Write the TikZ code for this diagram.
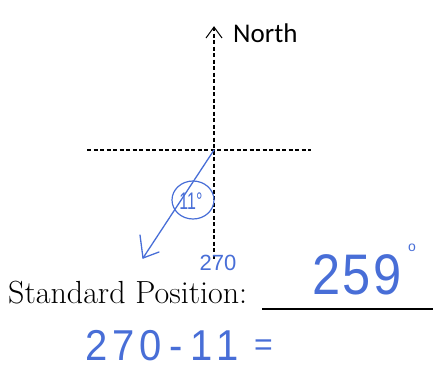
\documentclass[tikz,border=0pt]{standalone}
\usepackage{fontspec}
\setmainfont{Latin Modern Roman}
\newfontfamily\calfont{Carlito}
\newfontfamily\handfont{Liberation Sans}
\usetikzlibrary{calc}
\definecolor{ink}{RGB}{72,110,215}
\tikzset{
  guide/.style={black, line width=1.1pt, dash pattern=on 4pt off 2.5pt},
  pen/.style={ink, line width=1.3pt, line cap=round, line join=round},
  hand/.style={ink, inner sep=0pt, font=\handfont},
}
\begin{document}
\begin{tikzpicture}[x=1pt,y=-1pt]
\useasboundingbox (0,0) rectangle (433,368);
% axes
\coordinate (O) at (214,150);
\coordinate (Ntop) at (214,27);
\coordinate (Sbot) at (214,260);
\coordinate (Wend) at (87,150);
\coordinate (Eend) at (311,150);
\draw[guide] (Ntop) -- (Sbot);
\draw[guide] (Wend) -- (Eend);
\draw[black, line width=1pt] (206,38) -- (Ntop) -- (222,38);
\node[anchor=west, inner sep=0pt, font=\calfont\fontsize{27}{30}\selectfont] (north) at (233,33) {North};
% blue terminal side
\coordinate (tip) at (143,258);
\draw[pen] (O) -- (tip);
\draw[pen] (140,235) -- (tip) -- (159,252);
% circled 11 degrees
\draw[pen, line width=1.2pt] (193,200) ellipse [x radius=21, y radius=19];
\node[hand, font=\handfont\fontsize{20}{22}\selectfont] (eleven) at (191,201) {\scalebox{0.8}[1.2]{11\textdegree}};
% 270 under axis
\node[hand, font=\handfont\fontsize{20}{22}\selectfont] (t270) at (218,263) {\scalebox{1.1}[1.1]{270}};
% Standard position
\node[anchor=base west, inner sep=0pt, font=\fontsize{32}{36}\selectfont] (sp) at (8,303) {Standard Position:};
\coordinate (l1) at (262,309);
\coordinate (l2) at (433,309);
\draw[black, line width=1.1pt] (l1) -- (l2);
\node[hand, anchor=base west, font=\handfont\fontsize{44}{48}\selectfont] (ans) at (312,294) {\scalebox{1.15}[1.3]{2\kern2pt5\kern2pt9}};
\node[hand, font=\handfont\fontsize{14}{16}\selectfont] (deg) at (412,248) {o};
% work
\node[hand, anchor=base west, font=\handfont\fontsize{32}{36}\selectfont] (work) at (85,360) {\scalebox{1.25}[1.35]{2\kern4pt7\kern4pt0\kern6pt-\kern6pt1\kern3pt1}};
\node[hand, anchor=base west, font=\handfont\fontsize{32}{36}\selectfont] (eq) at (254,355) {=};
\end{tikzpicture}
\end{document}
